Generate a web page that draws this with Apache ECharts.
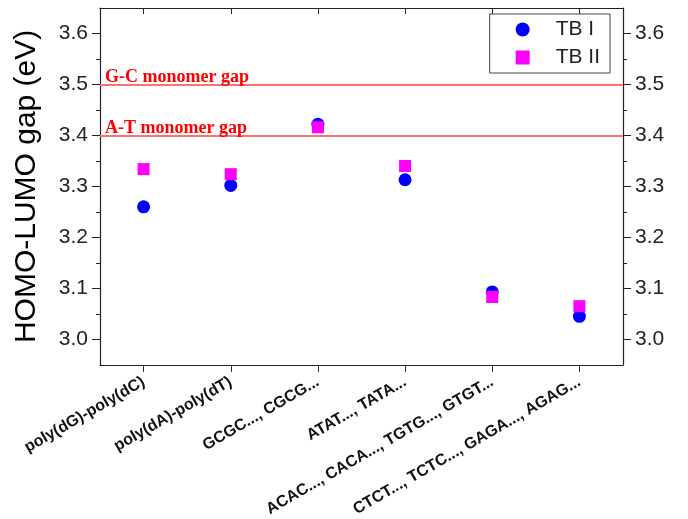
<!DOCTYPE html>
<html>
<head>
<meta charset="utf-8">
<script src="https://cdn.jsdelivr.net/npm/echarts@6/dist/echarts.min.js"></script>
<style>
  html, body { margin: 0; padding: 0; background: #fff; }
  #chart { width: 688px; height: 519px; }
</style>
</head>
<body>
<div id="chart"></div>
<script>
// DNA sequences along the x axis
const categories = [
  'poly(dG)-poly(dC)',
  'poly(dA)-poly(dT)',
  'GCGC..., CGCG...',
  'ATAT..., TATA...',
  'ACAC..., CACA..., TGTG..., GTGT...',
  'CTCT..., TCTC..., GAGA..., AGAG...'
];

// HOMO-LUMO gaps (eV) from the two tight-binding parametrisations
const tb1 = [3.26, 3.302, 3.422, 3.313, 3.093, 3.045];
const tb2 = [3.334, 3.324, 3.416, 3.340, 3.083, 3.065];

// Reference monomer gaps (eV)
const monomerGaps = [
  { name: 'G-C monomer gap', value: 3.5 },
  { name: 'A-T monomer gap', value: 3.4 }
];

// Value axis: range, labelled (major) ticks and minor ticks
const yMin = 2.95, yMax = 3.65;
const majorTicks = [3.0, 3.1, 3.2, 3.3, 3.4, 3.5, 3.6];
const minorTicks = [3.05, 3.15, 3.25, 3.35, 3.45, 3.55];

const axisColor = '#222';
const sans = 'Liberation Sans, Arial, sans-serif';
const labelFont = { fontFamily: sans, fontSize: 21, color: '#222' };

function majorAxis(position, extra) {
  return Object.assign({
    type: 'value',
    position: position,
    min: yMin,
    max: yMax,
    interval: 0.05,
    splitLine: { show: false },
    axisLine: { show: true, lineStyle: { color: axisColor, width: 1.2 } },
    axisTick: { show: true, inside: false, length: 8, customValues: majorTicks, lineStyle: { color: axisColor } },
    axisLabel: Object.assign({ margin: 12, customValues: majorTicks, formatter: v => v.toFixed(1) }, labelFont)
  }, extra || {});
}

function minorAxis(position) {
  return {
    type: 'value',
    position: position,
    min: yMin,
    max: yMax,
    interval: 0.05,
    splitLine: { show: false },
    axisLine: { show: false },
    axisTick: { show: true, inside: false, length: 4, customValues: minorTicks, lineStyle: { color: axisColor } },
    axisLabel: { show: false }
  };
}

const chart = echarts.init(document.getElementById('chart'), null, { renderer: 'canvas' });

chart.setOption({
  animation: false,
  backgroundColor: '#fff',
  grid: { left: 100, right: 65, top: 8, bottom: 154 },
  legend: {
    orient: 'vertical',
    top: 14,
    right: 78,
    itemWidth: 14,
    itemHeight: 14,
    itemGap: 7,
    padding: [5, 10, 5, 26],
    borderColor: '#444',
    borderWidth: 1,
    textStyle: Object.assign({ padding: [0, 0, 0, 21] }, labelFont),
    data: [
      { name: 'TB I', icon: 'circle' },
      { name: 'TB II', icon: 'rect', itemStyle: { borderWidth: 0 } }
    ]
  },
  xAxis: [
    {
      type: 'category',
      position: 'bottom',
      data: categories,
      boundaryGap: true,
      axisLine: { lineStyle: { color: axisColor, width: 1.2 } },
      axisTick: { show: true, interval: 0, alignWithLabel: true, inside: false, length: 7, lineStyle: { color: axisColor } },
      axisLabel: {
        interval: 0,
        rotate: 30,
        margin: 16,
        fontFamily: sans,
        fontWeight: 'bold',
        fontSize: 16,
        color: '#111'
      }
    },
    {
      type: 'category',
      position: 'top',
      data: categories,
      boundaryGap: true,
      axisLine: { lineStyle: { color: axisColor, width: 1.2 } },
      axisTick: { show: true, interval: 0, alignWithLabel: true, inside: true, length: 6, lineStyle: { color: axisColor } },
      axisLabel: { show: false }
    }
  ],
  yAxis: [
    majorAxis('left', {
      name: 'HOMO-LUMO gap (eV)',
      nameLocation: 'middle',
      nameGap: 58,
      nameTextStyle: { fontFamily: sans, fontSize: 30, color: '#000' }
    }),
    minorAxis('left'),
    majorAxis('right'),
    minorAxis('right')
  ],
  series: [
    {
      name: 'TB I',
      type: 'scatter',
      yAxisIndex: 0,
      symbol: 'circle',
      symbolSize: 13,
      itemStyle: { color: '#0000ff', opacity: 1 },
      data: tb1,
      z: 3,
      markLine: {
        silent: true,
        symbol: 'none',
        lineStyle: { color: '#ff7070', width: 2, type: 'solid' },
        label: {
          position: 'insideStartTop',
          distance: [5, -2],
          formatter: '{b}',
          fontFamily: 'Liberation Serif, Times New Roman, serif',
          fontWeight: 'bold',
          fontSize: 18,
          lineHeight: 18,
          color: '#ff0000'
        },
        data: monomerGaps.map(g => ({ name: g.name, yAxis: g.value }))
      }
    },
    {
      name: 'TB II',
      type: 'scatter',
      yAxisIndex: 0,
      symbol: 'rect',
      symbolSize: 12,
      itemStyle: { color: '#ff00ff', opacity: 1 },
      data: tb2,
      z: 4
    }
  ]
});
</script>
</body>
</html>
